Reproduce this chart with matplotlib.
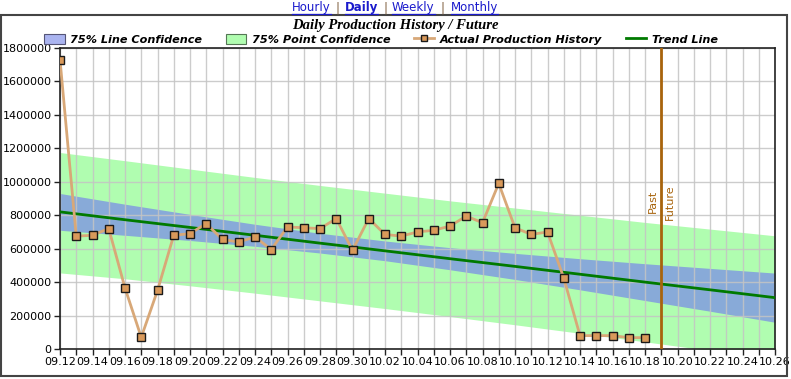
import pandas as pd
import matplotlib
matplotlib.use("Agg")
import matplotlib.pyplot as plt
import matplotlib.dates as mdates
from matplotlib.lines import Line2D
from matplotlib.patches import Patch, Rectangle
import numpy as np

# actual production history (daily)
prod_days = ["09.12", "09.13", "09.14", "09.15", "09.16", "09.17", "09.18", "09.19",
             "09.20", "09.21", "09.22", "09.23", "09.24", "09.25", "09.26", "09.27",
             "09.28", "09.29", "09.30", "10.01", "10.02", "10.03", "10.04", "10.05",
             "10.06", "10.07", "10.08", "10.09", "10.10", "10.11", "10.12", "10.13",
             "10.14", "10.15", "10.16", "10.17", "10.18"]
production = [1730000, 675000, 680000, 720000, 365000, 70000, 350000, 680000,
              690000, 750000, 655000, 640000, 670000, 595000, 730000, 725000,
              720000, 780000, 590000, 780000, 685000, 675000, 700000, 710000,
              735000, 795000, 755000, 990000, 725000, 685000, 700000, 425000,
              80000, 80000, 80000, 68000, 68000]

# trend line and confidence bands
band_days = ["09.12", "09.16", "09.20", "09.24", "09.28", "10.02", "10.06", "10.10",
             "10.14", "10.18", "10.22", "10.26"]
trend = [820000, 773000, 727000, 680000, 633000, 587000, 540000, 494000,
         447000, 400000, 354000, 307000]
line_lo = [710000, 680000, 649000, 614000, 574000, 528000, 474000, 416000,
           354000, 290000, 226000, 160000]
line_hi = [930000, 866000, 805000, 746000, 692000, 646000, 606000, 572000,
           540000, 510000, 482000, 454000]
point_lo = [455000, 420000, 378000, 334000, 288000, 242000, 194000, 145000,
            94000, 43000, -9000, -63000]
point_hi = [1175000, 1126000, 1076000, 1026000, 978000, 932000, 886000, 843000,
            800000, 757000, 717000, 677000]

past_future = "10.19"
x_start, x_end = "09.12", "10.26"


def to_date(s):
    return pd.to_datetime("2023." + s, format="%Y.%m.%d")


px = [to_date(d) for d in prod_days]
bx = [to_date(d) for d in band_days]

W, H = 791, 379
fig = plt.figure(figsize=(W / 100, H / 100), dpi=100)
ax = fig.add_axes([60 / W, 1 - 349 / H, 715 / W, 301 / H])

ax.fill_between(bx, point_lo, point_hi, color="#b0fdb0", lw=0, zorder=0.2)
ax.fill_between(bx, line_lo, line_hi, color="#88aad8", lw=0, zorder=0.3)
ax.set_axisbelow(True)
ax.grid(True, which="both", color="#c4c4c4", lw=1.0, alpha=0.85)
ax.plot(bx, trend, color="#007a00", lw=2, zorder=3)
ax.plot(px, production, color="#d8a878", lw=2, zorder=4,
        marker="s", ms=5.5, mfc="#d9995a", mec="#1a1a1a", mew=1)

pf = to_date(past_future)
ax.axvline(pf, color="#a8640c", lw=2, zorder=5)
ax.text(pf - pd.Timedelta(hours=5), 880000, "Past", rotation=90, color="#a8640c",
        ha="right", va="center", fontsize=8)
ax.text(pf + pd.Timedelta(hours=5), 880000, "Future", rotation=90, color="#a8640c",
        ha="left", va="center", fontsize=8)

ax.set_xlim(to_date(x_start), to_date(x_end))
ax.set_ylim(0, 1800000)
ax.set_yticks(np.arange(0, 1800001, 200000))
ax.yaxis.set_major_formatter(matplotlib.ticker.FuncFormatter(lambda v, p: f"{int(v)}"))
ax.set_xticks(pd.date_range(to_date(x_start), to_date(x_end), freq="2D"))
ax.set_xticks(pd.date_range(to_date(x_start), to_date(x_end), freq="1D"), minor=True)
ax.xaxis.set_major_formatter(mdates.DateFormatter("%m.%d"))
ax.tick_params(axis="both", labelsize=8, length=4, width=1, color="#222222", pad=2)
ax.tick_params(axis="x", which="minor", length=4, width=1, color="#222222")
for sp in ax.spines.values():
    sp.set_color("#222222")
    sp.set_linewidth(1.2)

# outer frame
fig.add_artist(Rectangle((1 / W, 1 - 376 / H), 786 / W, 361 / H, transform=fig.transFigure,
                         fill=False, ec="#444444", lw=1.5))

# title
fig.text(395 / W, 1 - 25 / H, "Daily Production History / Future", ha="center", va="center",
         family="Liberation Serif", weight="bold", style="italic", fontsize=10.5)

# legend
handles = [Patch(fc="#aab4f0", ec="#555577", lw=0.8),
           Patch(fc="#b0fdb0", ec="#557755", lw=0.8),
           Line2D([], [], color="#d8a878", lw=2, marker="s", ms=5, mfc="#d9995a", mec="#1a1a1a"),
           Line2D([], [], color="#007a00", lw=2)]
labels = ["75% Line Confidence", "75% Point Confidence", "Actual Production History", "Trend Line"]
fig.legend(handles, labels, loc="center", bbox_to_anchor=(381 / W, 1 - 39.5 / H), ncol=4,
           frameon=False, prop=dict(weight="bold", style="italic", size=8.1),
           handlelength=1.8, handleheight=0.9, columnspacing=2.1, handletextpad=0.5,
           borderpad=0, borderaxespad=0)

# navigation links
links = [("Hourly", "normal", 292), ("Daily", "bold", 345), ("Weekly", "normal", 392), ("Monthly", "normal", 451)]
fig.canvas.draw()
renderer = fig.canvas.get_renderer()
prev_end = None
for name, wt, x0 in links:
    t = fig.text(x0 / W, 1 - 7.5 / H, name, color="#1a1acc", weight=wt, fontsize=8.5,
                 ha="left", va="center")
    bb = t.get_window_extent(renderer)
    fig.add_artist(Line2D([bb.x0 / W, bb.x1 / W], [(bb.y0 + 0.5) / H] * 2,
                          transform=fig.transFigure, color="#1a1acc", lw=0.9))
    if prev_end is not None:
        fig.text((prev_end + x0) / 2 / W, 1 - 7.5 / H, "|", color="#806040",
                 fontsize=8.5, ha="center", va="center")
    prev_end = bb.x1

fig.savefig("out.png", dpi=100)
